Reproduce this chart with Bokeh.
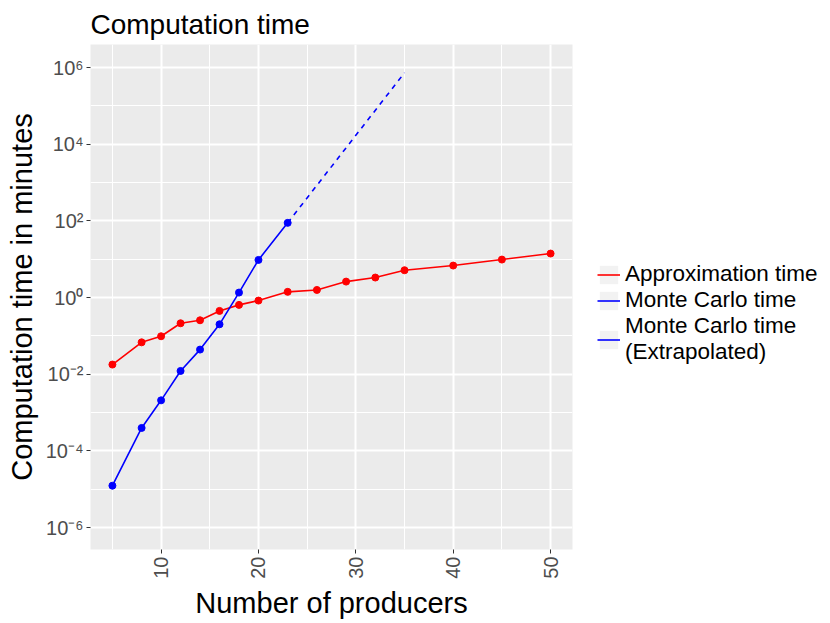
import math
from bokeh.plotting import figure
from bokeh.models import Range1d, FixedTicker, Legend, LegendItem
from bokeh.embed import file_html
from bokeh.resources import INLINE

# ---- data ----
approx_x = [5, 8, 10, 12, 14, 16, 18, 20, 23, 26, 29, 32, 35, 40, 45, 50]
approx_y = [0.0179, 0.068, 0.098, 0.214, 0.256, 0.449, 0.645, 0.835,
            1.41, 1.58, 2.61, 3.33, 5.16, 6.84, 9.8, 14.06]
mc_x = [5, 8, 10, 12, 14, 16, 18, 20, 23]
mc_y = [1.24e-5, 3.98e-4, 2.09e-3, 0.0122, 0.044, 0.201, 1.35, 9.6, 88.8]
extrap_x = [23, 35]
extrap_y = [88.8, 7.3e5]

x_ticks = [10, 20, 30, 40, 50]
x_minor = [5, 15, 25, 35, 45]
y_ticks = [1e-6, 1e-4, 1e-2, 1e0, 1e2, 1e4, 1e6]
y_tick_labels = ["10⁻⁶", "10⁻⁴", "10⁻²", "10⁰", "10²", "10⁴", "10⁶"]
y_minor = [1e-5, 1e-3, 1e-1, 1e1, 1e3, 1e5]

legend_labels = ["Approximation time", "Monte Carlo time", "Monte Carlo time\n(Extrapolated)"]

FONT = "Liberation Sans"
RED = "#FF0000"
BLUE = "#0000FF"

p = figure(frame_width=482, frame_height=505,
           min_border_left=90, min_border_right=245, min_border_top=44, min_border_bottom=60,
           y_axis_type="log",
           x_range=Range1d(2.75, 52.25),
           y_range=Range1d(10 ** -6.57, 10 ** 6.6),
           output_backend="svg", toolbar_location=None)

p.background_fill_color = "#EBEBEB"
p.border_fill_color = "white"
p.outline_line_color = None

p.title.text = "Computation time"
p.title.text_font = FONT
p.title.text_font_size = "28px"
p.title.text_font_style = "normal"
p.title.text_color = "black"
p.title.standoff = 10

# grids
p.xgrid.ticker = FixedTicker(ticks=x_ticks, minor_ticks=x_minor)
p.ygrid.ticker = FixedTicker(ticks=y_ticks, minor_ticks=y_minor)
for g in (p.xgrid, p.ygrid):
    g.grid_line_color = "white"
    g.grid_line_width = 2
    g.minor_grid_line_color = "white"
    g.minor_grid_line_width = 1

# axes
p.xaxis.ticker = FixedTicker(ticks=x_ticks, minor_ticks=x_minor)
p.yaxis.ticker = FixedTicker(ticks=y_ticks, minor_ticks=y_minor)
p.yaxis.major_label_overrides = {t: l for t, l in zip(y_ticks, y_tick_labels)}
p.xaxis.major_label_orientation = math.pi / 2
p.xaxis.axis_label = "Number of producers"
p.yaxis.axis_label = "Computation time in minutes"
for ax in (p.xaxis, p.yaxis):
    ax.axis_line_color = None
    ax.major_tick_line_color = "#333333"
    ax.major_tick_out = 4
    ax.major_tick_in = 0
    ax.minor_tick_out = 0
    ax.minor_tick_in = 0
    ax.major_label_text_font = FONT
    ax.major_label_text_font_size = "20px"
    ax.major_label_text_color = "#4D4D4D"
    ax.major_label_standoff = 3
    ax.axis_label_text_font = FONT
    ax.axis_label_text_font_size = "29px"
    ax.axis_label_text_font_style = "normal"
    ax.axis_label_text_color = "black"
    ax.axis_label_standoff = 5

# data
r_line = p.line(approx_x, approx_y, line_color=RED, line_width=1.6)
p.scatter(approx_x, approx_y, size=7, fill_color=RED, line_color=RED)
b_line = p.line(mc_x, mc_y, line_color=BLUE, line_width=1.6)
p.scatter(mc_x, mc_y, size=7, fill_color=BLUE, line_color=BLUE)
p.line(extrap_x, extrap_y, line_color=BLUE, line_width=1.6, line_dash="5 5")

# legend helpers (no visible data)
nan = float("nan")
key_bg = p.rect(x=[nan], y=[nan], width=1, height=1, fill_color="#F2F2F2", line_color=None)
key_solid_blue = p.line([nan], [nan], line_color=BLUE, line_width=1.6)

legend = Legend(items=[
    LegendItem(label=legend_labels[0], renderers=[key_bg, r_line]),
    LegendItem(label=legend_labels[1], renderers=[key_bg, b_line]),
    LegendItem(label=legend_labels[2], renderers=[key_bg, key_solid_blue]),
], location=(25, 184))
legend.glyph_width = 23
legend.glyph_height = 23
legend.label_standoff = 5
legend.spacing = 0
legend.padding = 0
legend.margin = 0
legend.border_line_color = None
legend.background_fill_alpha = 0
legend.label_text_font = FONT
legend.label_text_font_size = "22.5px"
legend.label_text_line_height = 0.9
legend.label_text_color = "black"
legend.label_height = 23
p.add_layout(legend, "right")

open("out.html", "w").write(file_html(p, INLINE))
